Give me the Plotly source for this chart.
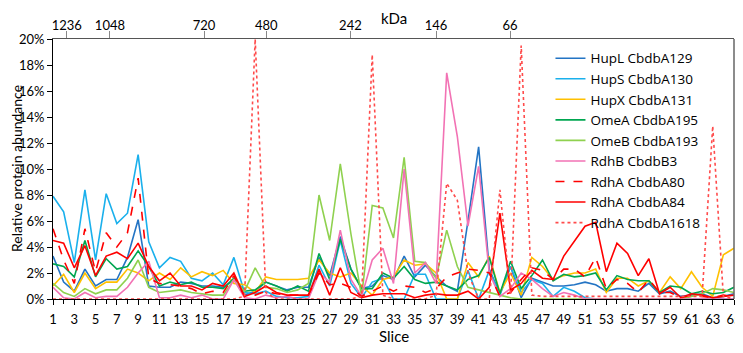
import plotly.graph_objects as go

slices = list(range(1, 66))

hupL_A129 = [3.3, 1.3, 0.6, 2.3, 1.0, 1.5, 1.5, 3.2, 6.1, 1.0, 0.9, 0.9, 1.3, 1.2, 1.0, 1.0, 0.9, 1.5, 0.3, 0.6,
             1.3, 1.0, 0.7, 0.9, 0.9, 3.2, 1.8, 4.8, 2.3, 0.8, 1.0, 1.8, 1.5, 3.3, 1.7, 2.6, 1.7, 1.0, 0.6, 6.0,
             11.7, 2.3, 0.4, 2.5, 0.1, 1.6, 1.3, 1.0, 1.0, 1.1, 1.3, 1.1, 0.6, 0.8, 0.8, 0.6, 1.2, 0.4, 0.6, 0.2,
             0.3, 0.4, 0.1, 0.2, 0.4]
hupS_A130 = [7.9, 6.7, 2.8, 8.4, 3.0, 8.1, 5.8, 6.6, 11.1, 4.4, 2.4, 3.2, 2.9, 1.6, 1.4, 2.0, 1.1, 3.2, 0.5, 0.4,
             0.6, 0.2, 0.1, 0.1, 0.2, 2.6, 1.0, 4.5, 1.2, 0.1, 1.3, 1.6, 0.0, 0.0, 1.9, 1.9, 0.0, 0.0, 0.0, 2.2,
             0.0, 2.2, 0.3, 2.5, 0.5, 1.5, 1.2, 0.2, 0.9, 0.6, 0.1, 0.0, 0.0, 0.0, 0.0, 0.0, 0.0, 0.0, 0.0, 0.0,
             0.0, 0.0, 0.0, 0.0, 0.0]
hupX_A131 = [1.0, 1.9, 0.5, 2.0, 0.8, 1.3, 1.3, 2.3, 2.0, 1.4, 2.0, 1.5, 2.4, 1.7, 2.1, 1.8, 2.2, 1.2, 1.1, 0.5,
             1.7, 1.5, 1.5, 1.5, 1.6, 3.0, 2.0, 1.7, 2.0, 1.0, 0.3, 1.5, 1.7, 3.0, 2.6, 2.7, 2.0, 0.0, 0.0, 2.8,
             1.7, 3.3, 0.5, 2.0, 0.3, 3.2, 2.5, 1.5, 1.8, 2.0, 2.0, 2.3, 0.5, 1.6, 1.6, 1.0, 1.4, 0.5, 1.7, 0.8,
             2.1, 0.9, 0.2, 3.4, 3.9]
omeA_A195 = [2.7, 2.5, 1.7, 4.5, 1.7, 3.1, 2.3, 2.5, 3.7, 2.5, 1.0, 1.3, 1.1, 1.3, 0.9, 0.9, 0.8, 1.6, 0.6, 0.7,
             1.3, 1.0, 0.6, 1.0, 0.6, 3.5, 1.5, 4.6, 2.3, 0.8, 0.8, 2.0, 1.6, 2.5, 1.5, 1.2, 1.3, 1.0, 0.7, 1.5,
             1.8, 3.2, 0.4, 2.9, 0.8, 1.8, 3.0, 1.4, 1.9, 1.7, 1.8, 2.0, 0.7, 1.8, 1.5, 1.4, 1.4, 0.5, 1.0, 0.9,
             0.4, 0.6, 0.4, 0.5, 0.9]
omeB_A193 = [1.2, 0.5, 0.2, 0.8, 0.4, 0.7, 0.7, 1.6, 3.0, 0.9, 0.5, 0.6, 0.7, 0.5, 0.4, 0.3, 0.3, 1.5, 0.6, 2.4,
             0.9, 0.8, 0.5, 0.7, 1.2, 8.0, 4.5, 10.4, 5.0, 0.2, 7.2, 7.0, 4.7, 10.9, 2.9, 2.8, 1.6, 5.3, 2.5, 0.9,
             0.7, 0.5, 0.3, 0.1, 0.0, 0.0, 0.0, 0.0, 0.0, 0.0, 0.0, 0.0, 0.0, 0.0, 0.0, 0.0, 0.0, 0.0, 0.0, 0.0,
             0.2, 0.4, 0.8, 0.7, 0.5]
rdhB_B3 = [0.9, 0.1, 0.0, 0.5, 0.1, 0.2, 0.2, 0.9, 2.0, 2.9, 0.1, 0.1, 0.3, 0.1, 0.3, 0.0, 0.0, 1.5, 0.1, 0.0,
           0.3, 0.1, 0.2, 0.0, 0.0, 2.0, 1.3, 5.3, 1.5, 0.2, 3.0, 3.9, 1.2, 10.0, 2.0, 2.8, 1.2, 17.4, 12.5, 5.6,
           10.2, 2.0, 0.2, 0.8, 2.0, 1.5, 0.8, 0.2, 0.5, 0.3, 0.0, 0.0, 0.0, 0.0, 0.0, 0.0, 0.0, 0.0, 0.0, 0.0,
           0.0, 0.0, 0.0, 0.0, 0.0]
rdhA_A80 = [5.4, 3.0, 1.2, 5.4, 2.1, 5.1, 4.0, 5.1, 9.3, 1.6, 1.2, 1.1, 1.0, 0.8, 0.4, 0.6, 0.5, 1.8, 0.2, 0.3,
            0.6, 0.4, 0.3, 0.3, 0.3, 2.0, 1.1, 1.2, 0.9, 0.2, 0.6, 1.0, 0.6, 1.0, 0.9, 0.5, 0.8, 1.7, 2.0, 2.3,
            2.2, 2.0, 0.2, 0.5, 1.5, 2.4, 2.2, 1.5, 2.3, 2.3, 1.7, 3.2, 0.8, 1.5, 1.2, 0.5, 1.5, 0.5, 0.5, 0.1,
            0.3, 0.2, 0.1, 0.3, 0.2]
rdhA_A84 = [4.5, 4.3, 2.4, 4.1, 1.8, 3.3, 3.6, 3.1, 4.3, 2.5, 1.4, 2.0, 1.0, 1.0, 0.7, 1.2, 1.0, 2.0, 0.2, 0.5,
            1.0, 0.5, 0.3, 0.3, 0.3, 2.3, 0.3, 2.4, 0.5, 0.1, 0.3, 0.4, 0.4, 0.4, 0.1, 0.3, 0.4, 0.3, 0.3, 0.6,
            0.0, 0.9, 6.6, 0.7, 1.2, 2.2, 1.6, 1.5, 3.3, 4.5, 5.6, 5.9, 2.1, 4.3, 3.5, 1.8, 3.1, 0.4, 0.9, 0.1,
            0.4, 0.3, 0.1, 0.2, 0.3]
rdhA_A1618 = [0.0, 0.0, 0.0, 0.0, 0.0, 0.0, 0.0, 0.0, 0.0, 0.0, 0.0, 0.0, 0.0, 0.0, 0.0, 0.0, 0.0, 0.0, 0.2, 20.0,
              0.5, 0.0, 0.0, 0.0, 0.0, 0.0, 0.0, 0.0, 0.0, 0.2, 18.8, 0.3, 0.0, 0.0, 0.0, 0.0, 0.3, 8.9, 7.6, 2.0,
              0.0, 0.0, 8.4, 0.3, 19.5, 0.3, 0.2, 0.2, 0.2, 0.2, 0.2, 0.2, 0.2, 0.2, 0.2, 0.2, 0.2, 0.2, 0.2, 0.2,
              0.2, 0.2, 13.3, 0.2, 0.0]

series_names = ["HupL CbdbA129", "HupS CbdbA130", "HupX CbdbA131", "OmeA CbdbA195", "OmeB CbdbA193",
                "RdhB CbdbB3", "RdhA CbdbA80", "RdhA CbdbA84", "RdhA CbdbA1618"]
series_values = [hupL_A129, hupS_A130, hupX_A131, omeA_A195, omeB_A193, rdhB_B3, rdhA_A80, rdhA_A84, rdhA_A1618]
colors = ["#2374C4", "#1AB0EC", "#FFC000", "#00A650", "#8FD14F", "#F272B4", "#FF0000", "#FF0000", "#FF4B4B"]
dashes = ["solid", "solid", "solid", "solid", "solid", "solid", "dash", "solid", "dot"]

kda_positions = [2.3, 6.35, 15.2, 21.05, 28.95, 37.0, 43.95]
kda_labels = ["1236", "1048", "720", "480", "242", "146", "66"]

odd_ticks = list(range(1, 66, 2))

FONT = "Lato, 'Open Sans', sans-serif"

fig = go.Figure()
for name, vals, c, d in zip(series_names, series_values, colors, dashes):
    fig.add_trace(go.Scatter(
        x=slices, y=[v / 100 for v in vals], mode="lines", name=name,
        line=dict(color=c, width=1.6, dash=d),
    ))

# invisible trace for top kDa axis
fig.add_trace(go.Scatter(x=[1, 65], y=[0, 0], xaxis="x2", mode="lines",
                         line=dict(width=0), showlegend=False, hoverinfo="skip"))

# the page body adds an 8px margin, so the figure is 8px smaller in each direction
fig.update_layout(
    width=735, height=345,
    margin=dict(l=45, r=9, t=31, b=54),
    paper_bgcolor="white", plot_bgcolor="white",
    font=dict(family=FONT, size=13, color="black"),
    xaxis=dict(
        range=[1, 65], tickmode="array", tickvals=odd_ticks, ticktext=[str(t) for t in odd_ticks],
        ticks="outside", ticklen=5, tickcolor="black", showline=True, linecolor="black", linewidth=1,
        showgrid=False, zeroline=False, tickfont=dict(size=13), ticklabeloverflow="allow",
        automargin=False, ticklabelstandoff=3,
        minor=dict(dtick=1, tick0=1, ticks="outside", ticklen=4, tickcolor="black", showgrid=False),
    ),
    xaxis2=dict(
        range=[1, 65], overlaying="x", side="top", tickmode="array",
        tickvals=kda_positions, ticktext=kda_labels, ticks="outside", ticklen=7, tickcolor="#888",
        showline=True, linecolor="#555", linewidth=1, showgrid=False, zeroline=False,
        tickfont=dict(size=13), automargin=False, ticklabelstandoff=-4,
    ),
    yaxis=dict(
        range=[0, 0.2], tickmode="array", tickvals=[i / 100 for i in range(0, 21, 2)],
        tickformat=".0%", ticks="outside", ticklen=5, tickcolor="black",
        showline=True, linecolor="black", linewidth=1, mirror=False,
        showgrid=False, zeroline=False, tickfont=dict(size=13), automargin=False,
    ),
    legend=dict(
        x=0.7305, y=0.985, xanchor="left", yanchor="top", bgcolor="rgba(255,255,255,0)",
        font=dict(family="'Open Sans', sans-serif", size=13.5), tracegroupgap=0, itemwidth=30,
        maxheight=320,
    ),
    shapes=[dict(type="line", xref="paper", yref="paper", x0=1, x1=1, y0=0, y1=1,
                 line=dict(color="#666", width=1.5))],
    annotations=[
        dict(text="Slice", xref="paper", yref="paper", x=0.5, y=-0.142, xanchor="center",
             yanchor="middle", showarrow=False, font=dict(size=15)),
        dict(text="kDa", xref="paper", yref="paper", x=0.5, y=1.0808, xanchor="center",
             yanchor="middle", showarrow=False, font=dict(size=15)),
        dict(text="Relative protein abundance", xref="paper", yref="paper", x=-0.0543, y=0.5,
             xanchor="center", yanchor="middle", textangle=-90, showarrow=False,
             font=dict(size=14)),
    ],
)

fig.write_html("out.html")
